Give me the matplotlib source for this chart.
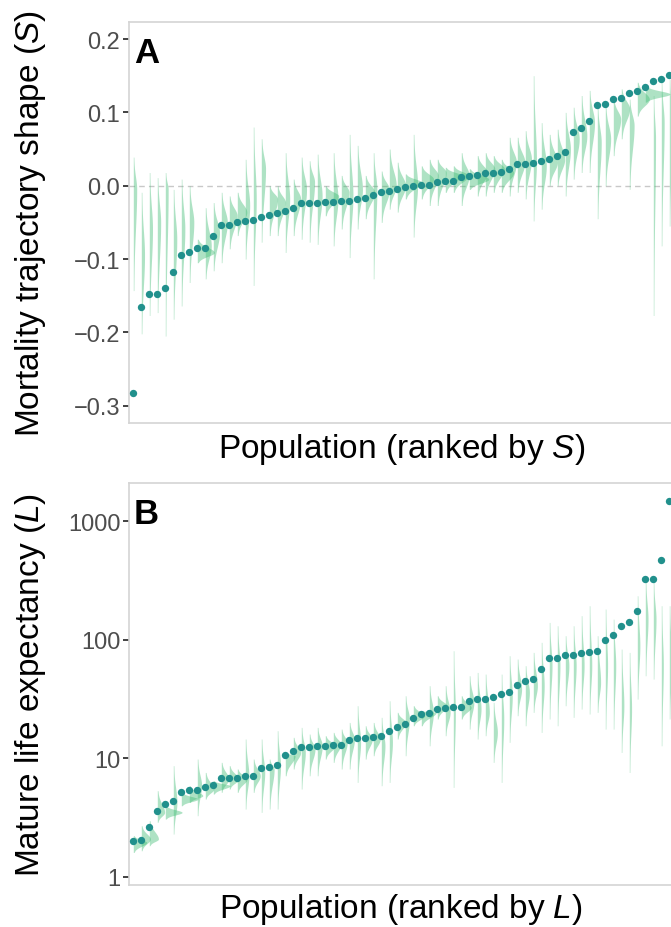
"""Ranked population estimates with posterior half-violins (panels A and B)."""

import matplotlib

matplotlib.use("Agg")
import matplotlib.pyplot as plt
import numpy as np
from matplotlib.ticker import FixedLocator, FuncFormatter, NullLocator

plt.rcParams["font.family"] = ["Liberation Sans", "DejaVu Sans"]
plt.rcParams["mathtext.fontset"] = "custom"
plt.rcParams["mathtext.rm"] = "Liberation Sans"
plt.rcParams["mathtext.it"] = "Liberation Sans:italic"

DOT_COLOR = "#21908c"
VIOLIN_COLOR = "#3fbc73"

# Panel A: mortality trajectory shape S, ranked
s_points = [
    -0.283, -0.165, -0.148, -0.148, -0.139, -0.118, -0.095, -0.090, -0.085, -0.085,
    -0.069, -0.054, -0.053, -0.050, -0.048, -0.047, -0.042, -0.040, -0.037, -0.035,
    -0.030, -0.023, -0.023, -0.023, -0.022, -0.022, -0.021, -0.021, -0.018, -0.017,
    -0.012, -0.009, -0.007, -0.005, -0.002, 0.000, 0.001, 0.001, 0.005, 0.006,
    0.006, 0.012, 0.013, 0.015, 0.018, 0.018, 0.019, 0.023, 0.029, 0.030,
    0.031, 0.034, 0.037, 0.041, 0.046, 0.073, 0.079, 0.088, 0.110, 0.111,
    0.118, 0.120, 0.126, 0.129, 0.135, 0.143, 0.145, 0.151,
]
# posterior spread of S per population: lower end, upper end, mode
s_violin_lo = [
    -0.143, -0.202, -0.177, -0.173, -0.205, -0.182, -0.164, -0.132, -0.105, -0.127,
    -0.116, -0.105, -0.086, -0.068, -0.100, -0.136, -0.077, -0.068, -0.068, -0.091,
    -0.068, -0.073, -0.077, -0.080, -0.041, -0.082, -0.059, -0.098, -0.059, -0.045,
    -0.127, -0.050, -0.032, -0.036, -0.018, -0.070, -0.018, -0.027, -0.027, -0.009,
    -0.009, -0.027, -0.005, -0.014, -0.014, -0.009, -0.009, -0.014, -0.009, -0.018,
    -0.048, -0.032, 0.000, 0.000, -0.014, 0.009, 0.018, 0.018, -0.045, 0.000,
    0.041, 0.064, -0.005, 0.095, 0.114, -0.177, -0.082, -0.055,
]
s_violin_hi = [
    0.039, -0.009, 0.018, 0.011, 0.018, -0.005, 0.009, 0.000, -0.073, -0.030,
    -0.023, -0.009, -0.014, -0.009, 0.036, 0.080, 0.064, 0.000, 0.000, 0.045,
    0.009, 0.039, 0.034, 0.043, 0.000, 0.045, 0.014, 0.070, 0.055, 0.014,
    0.045, 0.020, 0.050, 0.032, 0.016, 0.070, 0.027, 0.036, 0.036, 0.025,
    0.027, 0.045, 0.023, 0.041, 0.045, 0.041, 0.036, 0.066, 0.066, 0.075,
    0.150, 0.086, 0.070, 0.077, 0.100, 0.107, 0.123, 0.130, 0.109, 0.109,
    0.118, 0.132, 0.118, 0.141, 0.136, 0.123, 0.141, 0.145,
]
s_violin_mode = [
    -0.005, -0.095, -0.059, -0.050, -0.005, -0.073, -0.059, -0.050, -0.091, -0.082,
    -0.064, -0.050, -0.041, -0.036, -0.027, -0.018, 0.023, -0.018, -0.023, -0.018,
    -0.018, -0.005, 0.005, -0.014, -0.014, -0.018, -0.009, -0.014, -0.005, -0.009,
    -0.005, -0.005, 0.000, 0.000, 0.005, 0.000, 0.009, 0.014, 0.018, 0.014,
    0.014, 0.014, 0.009, 0.018, 0.023, 0.023, 0.018, 0.032, 0.032, 0.036,
    0.032, 0.027, 0.032, 0.036, 0.050, 0.064, 0.068, 0.086, 0.059, 0.064,
    0.091, 0.105, 0.082, 0.118, 0.125, 0.064, 0.086, 0.086,
]

# Panel B: mature life expectancy L, ranked
l_points = [
    1.99, 2.05, 2.64, 3.61, 4.13, 4.35, 5.15, 5.43, 5.43, 5.68,
    5.98, 6.85, 6.85, 6.85, 7.08, 7.08, 8.32, 8.49, 8.83, 10.6,
    11.4, 12.4, 12.5, 12.8, 12.8, 13.0, 13.0, 14.3, 14.8, 14.8,
    15.0, 15.3, 17.0, 18.2, 19.6, 21.7, 23.6, 24.1, 26.0, 26.4,
    26.9, 27.3, 30.6, 31.4, 31.6, 32.7, 34.6, 36.5, 41.8, 44.6,
    46.4, 57.0, 69.7, 70.6, 74.9, 74.9, 77.9, 78.3, 79.9, 99.6,
    110, 131, 142, 175, 328, 328, 472, 1475,
]
# posterior spread of L per population, in log10 units
l_violin_lo = [
    0.205, 0.219, 0.262, 0.459, 0.487, 0.360, 0.599, 0.627, 0.515, 0.655,
    0.698, 0.712, 0.740, 0.712, 0.571, 0.712, 0.543, 0.571, 0.571, 0.852,
    0.909, 0.740, 0.852, 0.852, 0.993, 0.965, 0.909, 0.909, 0.796, 0.993,
    1.021, 0.768, 0.796, 1.162, 1.021, 1.274, 1.274, 1.105, 1.331, 1.190,
    0.754, 1.331, 1.246, 1.162, 1.190, 0.965, 0.796, 1.134, 1.359, 1.274,
    1.387, 1.218, 1.331, 1.274, 1.443, 1.345, 1.415, 1.373, 1.387, 1.246,
    1.246, 1.049, 0.880, 1.499, 1.696, 1.668, 1.105, 1.331,
]
l_violin_hi = [
    0.346, 0.430, 0.473, 0.726, 0.599, 0.937, 0.712, 0.768, 0.993, 0.880,
    0.810, 0.965, 0.937, 0.909, 1.162, 0.993, 1.162, 0.993, 1.232, 1.049,
    1.176, 1.260, 1.204, 1.260, 1.190, 1.218, 1.246, 1.302, 1.443, 1.274,
    1.302, 1.345, 1.485, 1.387, 1.527, 1.443, 1.401, 1.612, 1.527, 1.612,
    1.907, 1.527, 1.696, 1.724, 1.710, 1.471, 1.710, 1.865, 1.837, 1.781,
    1.893, 1.978, 2.146, 2.118, 2.034, 2.118, 2.203, 2.287, 2.034, 2.259,
    2.174, 1.921, 1.893, 2.371, 2.512, 2.484, 2.287, 2.287,
]
l_violin_mode = [
    0.290, 0.318, 0.318, 0.543, 0.543, 0.627, 0.655, 0.684, 0.768, 0.740,
    0.768, 0.824, 0.824, 0.824, 0.852, 0.852, 0.880, 0.909, 0.937, 1.021,
    1.049, 1.049, 1.077, 1.105, 1.105, 1.120, 1.134, 1.162, 1.134, 1.162,
    1.162, 1.105, 1.134, 1.302, 1.331, 1.359, 1.387, 1.387, 1.443, 1.387,
    1.387, 1.429, 1.471, 1.415, 1.387, 1.218, 1.331, 1.527, 1.584, 1.556,
    1.612, 1.612, 1.781, 1.781, 1.781, 1.781, 1.781, 1.781, 1.640, 1.781,
    1.781, 1.443, 1.415, 1.949, 2.174, 2.174, 1.781, 1.809,
]

S_TICKS = [-0.3, -0.2, -0.1, 0.0, 0.1, 0.2]
L_TICKS = [1, 10, 100, 1000]


def half_violin(ax, x, lo, hi, mode, scale, log=False):
    """Right-pointing half violin with equal area, split-normal outline."""
    s_lo = max(mode - lo, 1e-4) / 2.6
    s_hi = max(hi - mode, 1e-4) / 2.6
    yy = np.linspace(lo, hi, 140)
    sig = np.where(yy < mode, s_lo, s_hi)
    dens = np.exp(-0.5 * ((yy - mode) / sig) ** 2) / (np.sqrt(np.pi / 2) * (s_lo + s_hi))
    width = scale * dens + 0.06
    ys = 10 ** yy if log else yy
    ax.fill_betweenx(ys, x, x + width, color=VIOLIN_COLOR, alpha=0.42, lw=0, zorder=1)


def style_axes(ax):
    for side in ax.spines.values():
        side.set_color("#d4d4d4")
        side.set_linewidth(1.2)
    ax.xaxis.set_major_locator(NullLocator())
    ax.tick_params(axis="y", length=4, width=1.3, color="#333333",
                   labelsize=17, labelcolor="#4d4d4d", pad=2.5)
    # both y titles share the same left edge, as in the original layout
    ax.yaxis.set_label_coords(-0.1494, 0.5)


def s_label(v, pos):
    return f"{v:.1f}".replace("-", "\u2212")


fig = plt.figure(figsize=(6.71, 9.28), dpi=100)
n = len(s_points)
xs = np.arange(1, n + 1)
ax_w = n * 8 / 671
ax_a = fig.add_axes([129.3 / 671, 0.5431, ax_w, 0.4324])
ax_b = fig.add_axes([129.3 / 671, 0.04526, ax_w, 0.4332])

# panel A
ax_a.axhline(0, color="#c8c8c8", lw=1, ls=(0, (4, 3)), zorder=0)
for i in range(n):
    half_violin(ax_a, xs[i], s_violin_lo[i], s_violin_hi[i], s_violin_mode[i], 0.032)
ax_a.scatter(xs, s_points, s=28, color=DOT_COLOR, lw=0, zorder=3)
ax_a.set_xlim(0.5, n + 0.5)
ax_a.set_ylim(-0.3236, 0.2236)
ax_a.yaxis.set_major_locator(FixedLocator(S_TICKS))
ax_a.yaxis.set_major_formatter(FuncFormatter(s_label))
style_axes(ax_a)
ax_a.set_ylabel(r"Mortality trajectory shape ($\mathit{S}$)", fontsize=24)
ax_a.set_xlabel(r"Population (ranked by $\mathit{S}$)", fontsize=24, labelpad=6)
ax_a.text(0.008, 0.965, "A", transform=ax_a.transAxes, fontsize=25,
          fontweight="bold", va="top", ha="left")

# panel B
for i in range(n):
    half_violin(ax_b, xs[i], l_violin_lo[i], l_violin_hi[i], l_violin_mode[i], 0.11, log=True)
ax_b.scatter(xs, l_points, s=28, color=DOT_COLOR, lw=0, zorder=3)
ax_b.set_yscale("log")
ax_b.set_xlim(0.5, n + 0.5)
ax_b.set_ylim(10 ** -0.070, 10 ** 3.323)
ax_b.yaxis.set_major_locator(FixedLocator(L_TICKS))
ax_b.yaxis.set_minor_locator(NullLocator())
ax_b.yaxis.set_major_formatter(FuncFormatter(lambda v, p: f"{v:g}"))
style_axes(ax_b)
ax_b.set_ylabel(r"Mature life expectancy ($\mathit{L}$)", fontsize=24)
ax_b.set_xlabel(r"Population (ranked by $\mathit{L}$)", fontsize=24, labelpad=4)
ax_b.text(0.008, 0.965, "B", transform=ax_b.transAxes, fontsize=25,
          fontweight="bold", va="top", ha="left")

fig.savefig("out.png", dpi=100)
plt.close(fig)
